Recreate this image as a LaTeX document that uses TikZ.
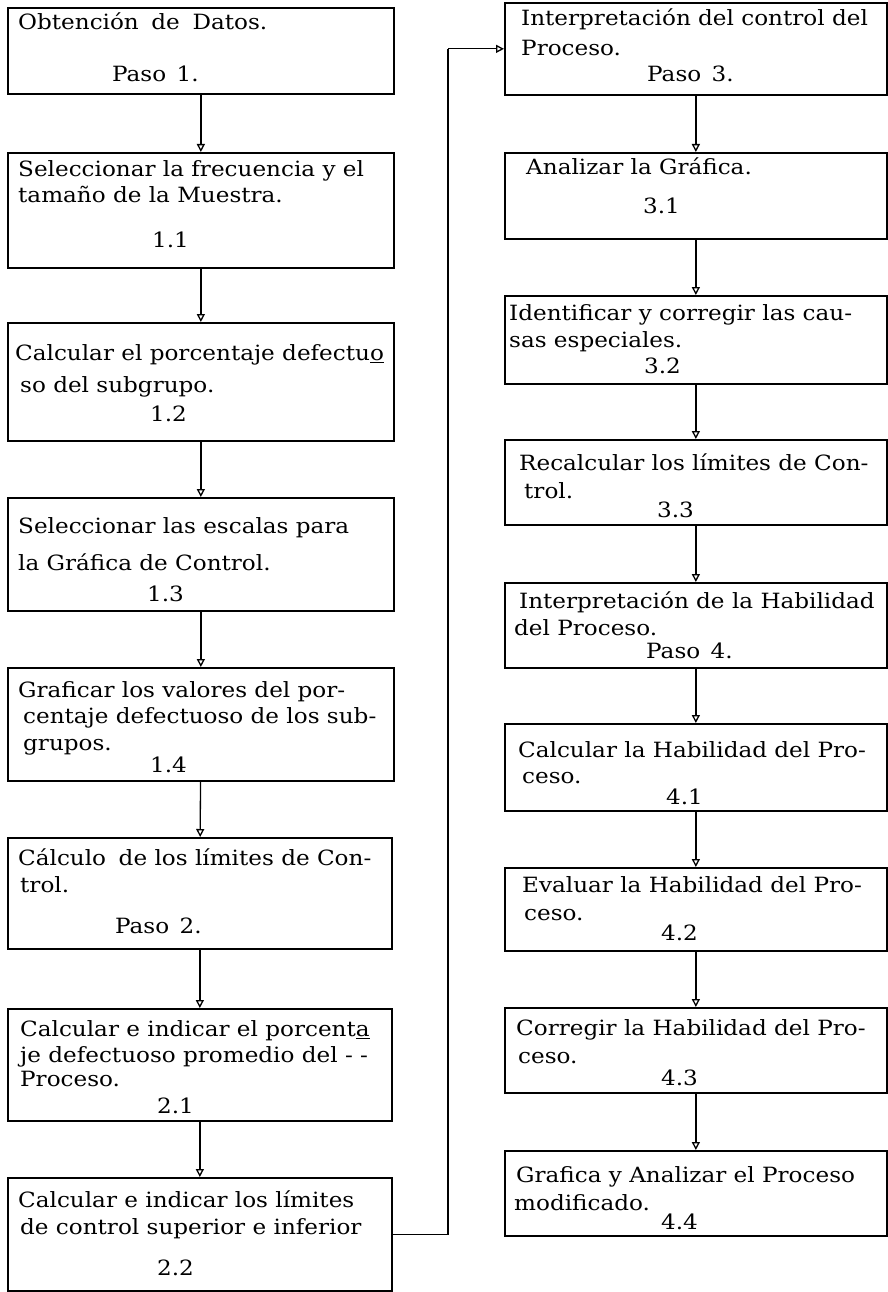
\documentclass[tikz,border=0pt]{standalone}
\usepackage{fontspec}
\setmainfont[FakeStretch=1.1]{DejaVu Serif}
\usetikzlibrary{arrows.meta}
\tikzset{
  boxst/.style={draw, line width=1.7pt, rectangle, inner sep=0pt, anchor=north west},
  txt/.style={anchor=base west, inner sep=0pt, font=\fontsize{21}{25}\selectfont},
  arr/.style={line width=1.3pt, -{Triangle[open,length=8pt,width=8pt,line width=1.3pt]}},
  con/.style={line width=1.5pt}
}
\newcommand\mkbox[5]{\node[boxst, minimum width={(#4-#2)*1pt}, minimum height={(#5-#3)*1pt}] (#1) at (#2,#3) {};}
\begin{document}
\begin{tikzpicture}[x=1pt,y=-1pt]
\fill[white] (0,0) rectangle (888,1292);
\useasboundingbox (0,0) rectangle (888,1292);
% left column
\mkbox{l1}{7}{7}{393}{93}
\mkbox{l2}{7}{152}{393}{267}
\mkbox{l3}{7}{322}{393}{440}
\mkbox{l4}{7}{497}{393}{610}
\mkbox{l5}{7}{667}{393}{780}
\mkbox{l6}{7}{837}{391}{948}
\mkbox{l7}{7}{1008}{391}{1120}
\mkbox{l8}{7}{1177}{391}{1290}
% right column
\mkbox{r1}{504}{2}{886}{94}
\mkbox{r2}{504}{152}{886}{238}
\mkbox{r3}{504}{295}{886}{383}
\mkbox{r4}{504}{439}{886}{524}
\mkbox{r5}{504}{582}{886}{667}
\mkbox{r6}{504}{723}{886}{810}
\mkbox{r7}{504}{867}{886}{950}
\mkbox{r8}{504}{1007}{886}{1092}
\mkbox{r9}{504}{1150}{886}{1235}
% texts left
\node[txt] (t1a) at (18,30) {Obtención\hspace{0.6em}de\hspace{0.6em}Datos.};
\node[txt] (t1b) at (112,82) {Paso\hspace{0.5em}1.};
\node[txt] (t2a) at (18,177) {Seleccionar la frecuencia y el};
\node[txt] (t2b) at (18,203) {tamaño de la Muestra.};
\node[txt] (t2c) at (152,247) {1.1};
\node[txt] (t3a) at (15,360) {Calcular el porcentaje defectu\underline{o}};
\node[txt] (t3b) at (20,392) {so del subgrupo.};
\node[txt] (t3c) at (150,421) {1.2};
\node[txt] (t4a) at (18,533) {Seleccionar las escalas para};
\node[txt] (t4b) at (18,570) {la Gráfica de Control.};
\node[txt] (t4c) at (147,601) {1.3};
\node[txt] (t5a) at (18,697) {Graficar los valores del por-};
\node[txt] (t5b) at (23,723) {centaje defectuoso de los sub-};
\node[txt] (t5c) at (23,750) {grupos.};
\node[txt] (t5d) at (150,772) {1.4};
\node[txt] (t6a) at (18,865) {Cálculo\hspace{0.6em}de los límites de Con-};
\node[txt] (t6b) at (20,892) {trol.};
\node[txt] (t6c) at (115,933) {Paso\hspace{0.5em}2.};
\node[txt] (t7a) at (20,1036) {Calcular e indicar el porcent\underline{a}};
\node[txt] (t7b) at (20,1062) {je defectuoso promedio del - -};
\node[txt] (t7c) at (20,1086) {Proceso.};
\node[txt] (t7d) at (157,1113) {2.1};
\node[txt] (t8a) at (18,1207) {Calcular e indicar los límites};
\node[txt] (t8b) at (20,1234) {de control superior e inferior};
\node[txt] (t8c) at (157,1275) {2.2};
% texts right
\node[txt] (u1a) at (521,26) {Interpretación del control del};
\node[txt] (u1b) at (521,56) {Proceso.};
\node[txt] (u1c) at (647,82) {Paso\hspace{0.5em}3.};
\node[txt] (u2a) at (526,175) {Analizar la Gráfica.};
\node[txt] (u2b) at (643,213) {3.1};
\node[txt] (u3a) at (509,320) {Identificar y corregir las cau-};
\node[txt] (u3b) at (509,347) {sas especiales.};
\node[txt] (u3c) at (644,373) {3.2};
\node[txt] (u4a) at (519,470) {Recalcular los límites de Con-};
\node[txt] (u4b) at (524,498) {trol.};
\node[txt] (u4c) at (657,517) {3.3};
\node[txt] (u5a) at (519,608) {Interpretación de la Habilidad};
\node[txt] (u5b) at (514,635) {del Proceso.};
\node[txt] (u5c) at (646,658) {Paso\hspace{0.5em}4.};
\node[txt] (u6a) at (518,757) {Calcular la Habilidad del Pro-};
\node[txt] (u6b) at (522,783) {ceso.};
\node[txt] (u6c) at (666,804) {4.1};
\node[txt] (u7a) at (522,892) {Evaluar la Habilidad del Pro-};
\node[txt] (u7b) at (524,920) {ceso.};
\node[txt] (u7c) at (661,940) {4.2};
\node[txt] (u8a) at (516,1035) {Corregir la Habilidad del Pro-};
\node[txt] (u8b) at (518,1063) {ceso.};
\node[txt] (u8c) at (661,1085) {4.3};
\node[txt] (u9a) at (516,1182) {Grafica y Analizar el Proceso};
\node[txt] (u9b) at (514,1210) {modificado.};
\node[txt] (u9c) at (661,1229) {4.4};
% arrows
\draw[arr] (l1) -- (l2);
\draw[arr] (l2) -- (l3);
\draw[arr] (l3) -- (l4);
\draw[arr] (l4) -- (l5);
\draw[arr] (l5) -- (l6);
\draw[arr] (l6) -- (l7);
\draw[arr] (l7) -- (l8);
\draw[arr] (r1) -- (r2);
\draw[arr] (r2) -- (r3);
\draw[arr] (r3) -- (r4);
\draw[arr] (r4) -- (r5);
\draw[arr] (r5) -- (r6);
\draw[arr] (r6) -- (r7);
\draw[arr] (r7) -- (r8);
\draw[arr] (r8) -- (r9);
\coordinate (cc) at (448,1233);
\draw[con] (l8.east) -- (l8.east -| cc) -- (cc |- r1.west);
\draw[arr] (cc |- r1.west) -- (r1.west);
\end{tikzpicture}
\end{document}
